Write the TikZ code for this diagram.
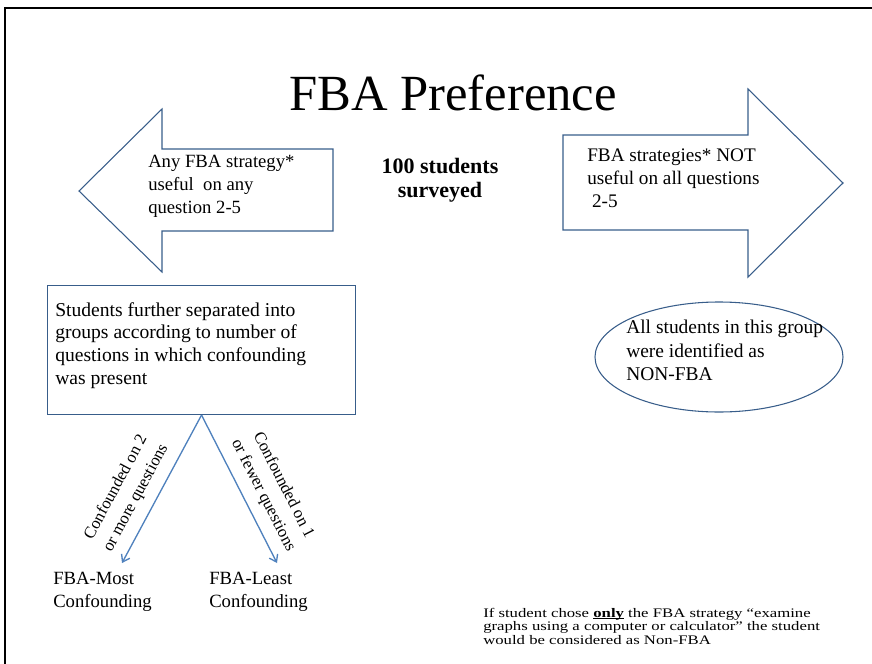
\documentclass[tikz,border=0pt]{standalone}
\usepackage{fontspec}
\setmainfont{Liberation Serif}
\newfontfamily\notefont{Liberation Serif}[FakeStretch=1.28]
\usepackage{tikz}
\usepackage{xcolor}
\usetikzlibrary{arrows.meta,positioning,calc,shapes.geometric}
\definecolor{fbaline}{HTML}{385D8A}
\definecolor{fbalink}{HTML}{4F81BD}
\newcommand{\onlyline}[1]{\setbox0=\hbox{#1}\rlap{\rule[-1.3pt]{\wd0}{0.6pt}}\box0\relax}
\tikzset{
  bigarrow/.style={draw=fbaline, line width=0.8pt, line join=miter},
  groupbox/.style={draw=fbaline, line width=0.8pt, minimum width=231pt, minimum height=96.75pt, inner sep=0pt},
  oval/.style={draw=fbaline, line width=0.8pt, ellipse, minimum width=186pt, minimum height=82.5pt},
  bodytext/.style={font=\fontsize{14}{17.4}\selectfont, align=left, inner sep=0pt, anchor=north west},
  link/.style={-{Straight Barb[length=5pt,width=7pt]}, line width=1pt, draw=fbalink},
  edgelabel/.style={font=\fontsize{12.5}{17}\selectfont, align=center, sloped, above, inner sep=7.5pt}
}
\begin{document}
\begin{tikzpicture}[x=0.75pt, y=-0.75pt]
  \useasboundingbox (0,0) rectangle (872,664);
  \draw[line width=1.5pt] (5,664) -- (5,8) -- (872,8);
  \node[font=\fontsize{38}{44}\selectfont, anchor=base] (title) at (453,110) {FBA Preference};
  \node[font=\bfseries\fontsize{16.5}{18}\selectfont, align=center, inner sep=0pt, anchor=north] (surveyed) at (440,158) {100 students\\surveyed};
  \draw[bigarrow] (79,191) -- (162,109) -- (162,149) -- (333,149) -- (333,231) -- (162,231) -- (162,272) -- cycle;
  \node[bodytext] (anyfba) at (148,155) {Any FBA strategy*\\useful\ \ on any\\question 2-5};
  \draw[bigarrow] (843,183) -- (748,89) -- (748,135) -- (563,135) -- (563,230) -- (748,230) -- (748,277) -- cycle;
  \node[bodytext, font=\fontsize{14.4}{17}\selectfont] (notfba) at (587,149) {FBA strategies* NOT\\useful on all questions\\\ 2-5};
  \node[groupbox, anchor=north west] (split) at (47,285) {};
  \node[bodytext, font=\fontsize{14.7}{17}\selectfont] (splittext) at (55,302) {Students further separated into\\groups according to number of\\questions in which confounding\\was present};
  \node[oval] (nonfba) at (719,357) {};
  \node[bodytext, font=\fontsize{14.6}{17.6}\selectfont] (nonfbatext) at (626,320) {All students in this group\\were identified as\\NON-FBA};
  \node[bodytext] (most) at (53,572) {FBA-Most\\Confounding};
  \node[bodytext] (least) at (209,572) {FBA-Least\\Confounding};
  \coordinate (mostend) at (122,563);
  \coordinate (leastend) at (277,563);
  \draw[link] (split.south) -- node[edgelabel, pos=0.62] {Confounded on 2\\or more questions} (mostend);
  \draw[link] (split.south) -- node[edgelabel, pos=0.6] {Confounded on 1\\or fewer questions} (leastend);
  \node[font=\notefont\fontsize{9.8}{10}\selectfont, align=left, inner sep=0pt, anchor=north west] (note) at (483,608) {If student chose \onlyline{\textbf{only}} the FBA strategy “examine\\graphs using a computer or calculator” the student\\would be considered as Non-FBA};
\end{tikzpicture}
\end{document}
